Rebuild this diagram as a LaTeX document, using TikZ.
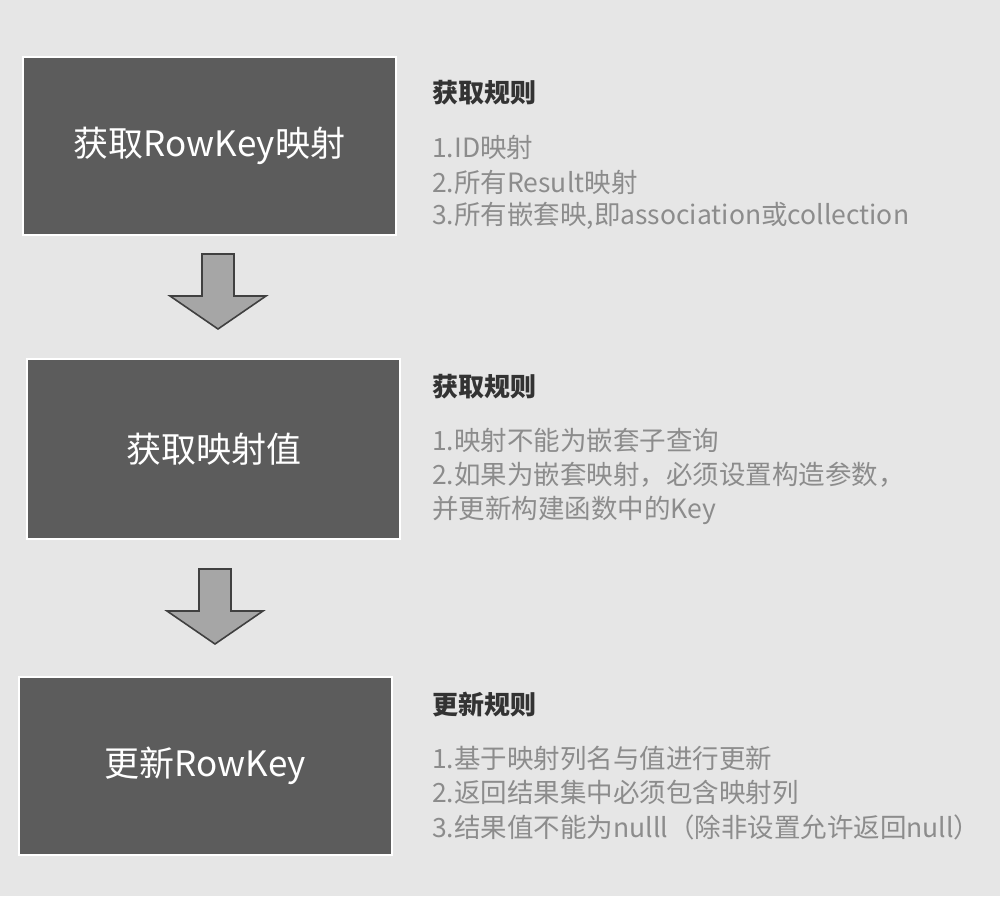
\documentclass[tikz,border=0pt]{standalone}
\usepackage{fontspec}
\setmainfont{Noto Sans CJK SC}
\usetikzlibrary{positioning,calc}

\definecolor{pagebg}{HTML}{E6E6E6}
\definecolor{stepfill}{HTML}{5C5C5C}
\definecolor{arrowfill}{HTML}{A6A6A6}
\definecolor{arrowline}{HTML}{404040}
\definecolor{headtxt}{HTML}{333333}
\definecolor{bodytxt}{HTML}{8C8C8C}

\tikzset{
  stepbox/.style={rectangle,fill=stepfill,draw=white,line width=1.5pt,
    minimum width=373pt,text=white,font=\fontsize{35}{40}\selectfont},
  rulehead/.style={anchor=west,inner sep=0pt,text=headtxt,
    font=\fontsize{26}{30}\selectfont\bfseries},
  rulebody/.style={anchor=west,inner sep=0pt,text=bodytxt,
    font=\fontsize{26.5}{30}\selectfont},
  pics/downarrow/.style={code={
    \draw[fill=arrowfill,draw=arrowline,line width=1.6pt,line join=miter]
      (-16,0) -- (16,0) -- (16,42) -- (48,42) -- (0,75) -- (-48,42)
      -- (-16,42) -- cycle;
  }}
}

\begin{document}
\begin{tikzpicture}[x=1pt,y=-1pt]
\fill[pagebg] (0,0) rectangle (1000,896);
\useasboundingbox (0,0) rectangle (1000,896);

% steps
\node[stepbox,minimum height=178pt] (fetch) at (209.5,146) {获取RowKey映射};
\node[stepbox,minimum height=180pt] (value) at (213.5,449) {获取映射值};
\node[stepbox,minimum height=178pt] (update) at (205.5,766) {更新RowKey};

% arrows between steps
\pic at (218,254) {downarrow};
\pic at (215,569) {downarrow};

% rules
\node[rulehead] (fetchhead) at (432,93) {获取规则};
\node[rulebody] (fetch1) at (432,147) {1.ID映射};
\node[rulebody] (fetch2) at (432,182) {2.所有Result映射};
\node[rulebody] (fetch3) at (432,216) {3.所有嵌套映,即association或collection};

\node[rulehead] (valuehead) at (432,387) {获取规则};
\node[rulebody] (value1) at (432,440) {1.映射不能为嵌套子查询};
\node[rulebody] (value2) at (432,475) {2.如果为嵌套映射，必须设置构造参数，};
\node[rulebody] (value3) at (432,510) {并更新构建函数中的Key};

\node[rulehead] (updatehead) at (432,705) {更新规则};
\node[rulebody] (update1) at (432,758) {1.基于映射列名与值进行更新};
\node[rulebody] (update2) at (432,792) {2.返回结果集中必须包含映射列};
\node[rulebody] (update3) at (432,827) {3.结果值不能为nulll（除非设置允许返回null）};
\end{tikzpicture}
\end{document}
